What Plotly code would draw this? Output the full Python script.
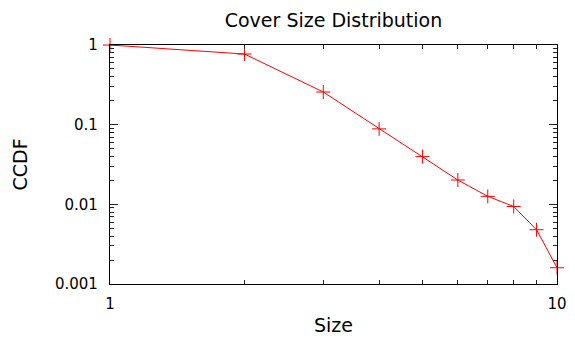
import plotly.graph_objects as go

sizes = [1, 2, 3, 4, 5, 6, 7, 8, 9, 10]
ccdf = [1.0, 0.77, 0.257, 0.0885, 0.0397, 0.0202, 0.0126, 0.0094, 0.0048, 0.0016]

x_major = [1, 10]
x_major_text = ["1", "10"]
x_minor = [2, 3, 4, 5, 6, 7, 8, 9]
y_major = [0.001, 0.01, 0.1, 1]
y_major_text = ["0.001", "0.01", "0.1", "1"]
y_minor = [m * 10 ** e for e in (-3, -2, -1) for m in range(2, 10)]

fig = go.Figure()
fig.add_trace(go.Scatter(
    x=sizes, y=ccdf, mode="lines+markers",
    line=dict(color="#ff0000", width=1),
    marker=dict(symbol="cross-thin", size=10, line=dict(color="#ff0000", width=1)),
    cliponaxis=False, showlegend=False,
))
fig.add_trace(go.Scatter(x=[sizes[0]], y=[ccdf[0]], xaxis="x2", yaxis="y2",
                         mode="markers", marker=dict(opacity=0), showlegend=False,
                         hoverinfo="skip"))

font = "DejaVu Sans"
common = dict(type="log", showgrid=False, zeroline=False, tickwidth=1,
              ticks="inside", showline=True, linecolor="black", linewidth=1.2)
fig.update_layout(
    width=575, height=338,
    margin=dict(l=99, r=26, t=37, b=62),
    paper_bgcolor="white", plot_bgcolor="white",
    font=dict(family=font, size=15, color="black"),
    title=dict(text="Cover Size Distribution", x=0.5, xanchor="center", xref="paper",
               y=1 - 12 / 338, yanchor="middle", yref="container", font=dict(size=19)),
    xaxis=dict(**common, range=[0, 1], tickvals=x_major, ticktext=x_major_text, tickcolor="#222222",
               ticklen=8, mirror="ticks", ticklabelstandoff=6,
               title=dict(text="Size", font=dict(size=19), standoff=6)),
    yaxis=dict(**common, range=[-3, 0], tickvals=y_major, ticktext=y_major_text, tickcolor="#222222",
               ticklen=8, mirror="ticks", ticklabelstandoff=8,
               title=dict(text="CCDF", font=dict(size=19), standoff=22)),
    xaxis2=dict(**common, range=[0, 1], tickvals=x_minor, ticklen=4, mirror="ticks", tickcolor="#222222",
                showticklabels=False, overlaying="x", anchor="y", side="bottom"),
    yaxis2=dict(**common, range=[-3, 0], tickvals=y_minor, ticklen=4, mirror="ticks", tickcolor="#222222",
                showticklabels=False, overlaying="y", anchor="x", side="left"),
)
fig.write_html("out.html")
